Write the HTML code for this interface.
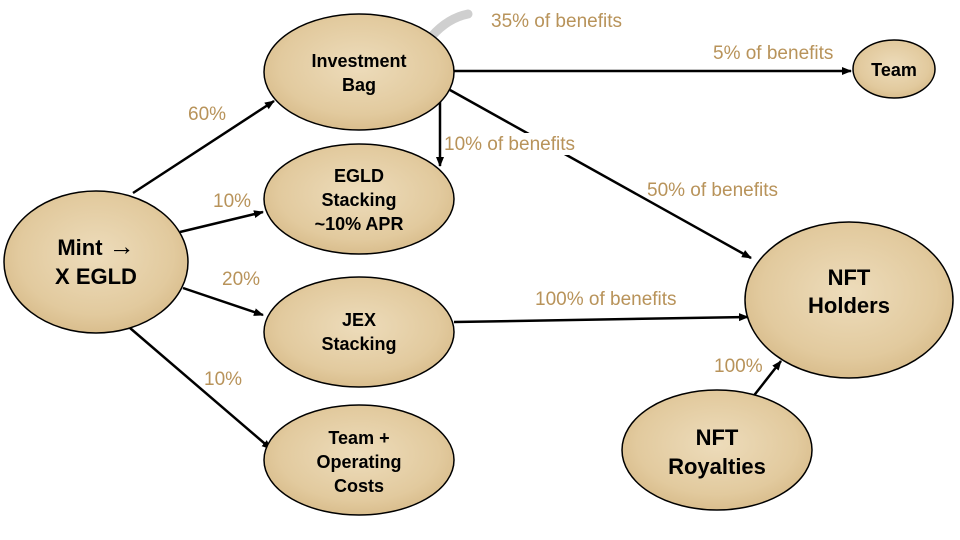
<!DOCTYPE html>
<html><head><meta charset="utf-8"><style>
html,body{margin:0;padding:0;background:#fff;}
svg{display:block;}
.t{font-family:"Liberation Sans",Arial,sans-serif;font-weight:bold;fill:#000;text-anchor:middle;}
.l{font-family:"Liberation Sans",Arial,sans-serif;fill:#b8935a;font-size:19px;}
</style></head><body>
<svg width="960" height="540" viewBox="0 0 960 540" xmlns="http://www.w3.org/2000/svg">
<defs>
<radialGradient id="g" cx="50%" cy="45%" r="60%">
<stop offset="0" stop-color="#eddcbb"/><stop offset="0.7" stop-color="#e2ca9e"/><stop offset="1" stop-color="#d6b987"/>
</radialGradient>
<marker id="a" markerWidth="10" markerHeight="10" refX="9" refY="5" orient="auto" markerUnits="userSpaceOnUse">
<path d="M0,1 L10,5 L0,9 z" fill="#000"/></marker>
</defs>
<path d="M432,36 Q448,18 468,14" stroke="#cfcfcf" stroke-width="9" fill="none" stroke-linecap="round"/>
<g stroke="#000" stroke-width="2.5" fill="none" marker-end="url(#a)">
<line x1="133" y1="193" x2="274" y2="101"/>
<line x1="180" y1="232" x2="263" y2="212"/>
<line x1="183" y1="288" x2="263" y2="315"/>
<line x1="130" y1="328" x2="271" y2="449"/>
<line x1="454" y1="71" x2="851" y2="71"/>
<line x1="440" y1="102" x2="440" y2="166"/>
<line x1="450" y1="90" x2="751" y2="258"/>
<line x1="454" y1="322" x2="748" y2="317"/>
<line x1="752" y1="398" x2="781" y2="361"/>
</g>
<rect x="443" y="133" width="135" height="22" fill="#fff"/>
<g fill="url(#g)" stroke="#000" stroke-width="1.5">
<ellipse cx="359" cy="72" rx="95" ry="58"/>
<ellipse cx="359" cy="199" rx="95" ry="55"/>
<ellipse cx="359" cy="332" rx="95" ry="55"/>
<ellipse cx="359" cy="460" rx="95" ry="55"/>
<ellipse cx="96" cy="262" rx="92" ry="71"/>
<ellipse cx="894" cy="69" rx="41" ry="29"/>
<ellipse cx="849" cy="300" rx="104" ry="78"/>
<ellipse cx="717" cy="450" rx="95" ry="60"/>
</g>
<text class="t" font-size="18"><tspan x="359" y="67">Investment</tspan><tspan x="359" y="91">Bag</tspan></text>
<text class="t" font-size="18"><tspan x="359" y="182">EGLD</tspan><tspan x="359" y="206">Stacking</tspan><tspan x="359" y="230">~10% APR</tspan></text>
<text class="t" font-size="18"><tspan x="359" y="326">JEX</tspan><tspan x="359" y="350">Stacking</tspan></text>
<text class="t" font-size="18"><tspan x="359" y="444">Team +</tspan><tspan x="359" y="468">Operating</tspan><tspan x="359" y="492">Costs</tspan></text>
<text class="t" font-size="22"><tspan x="96" y="255">Mint <tspan font-size="26">→</tspan></tspan><tspan x="96" y="284">X EGLD</tspan></text>
<text class="t" font-size="18" x="894" y="76">Team</text>
<text class="t" font-size="22"><tspan x="849" y="285">NFT</tspan><tspan x="849" y="313">Holders</tspan></text>
<text class="t" font-size="22"><tspan x="717" y="445">NFT</tspan><tspan x="717" y="474">Royalties</tspan></text>
<text class="l" x="188" y="120">60%</text>
<text class="l" x="213" y="207">10%</text>
<text class="l" x="222" y="285">20%</text>
<text class="l" x="204" y="385">10%</text>
<text class="l" x="491" y="27">35% of benefits</text>
<text class="l" x="713" y="59">5% of benefits</text>
<text class="l" x="444" y="150">10% of benefits</text>
<text class="l" x="647" y="196">50% of benefits</text>
<text class="l" x="535" y="305">100% of benefits</text>
<text class="l" x="714" y="372">100%</text>
</svg>
</body></html>
